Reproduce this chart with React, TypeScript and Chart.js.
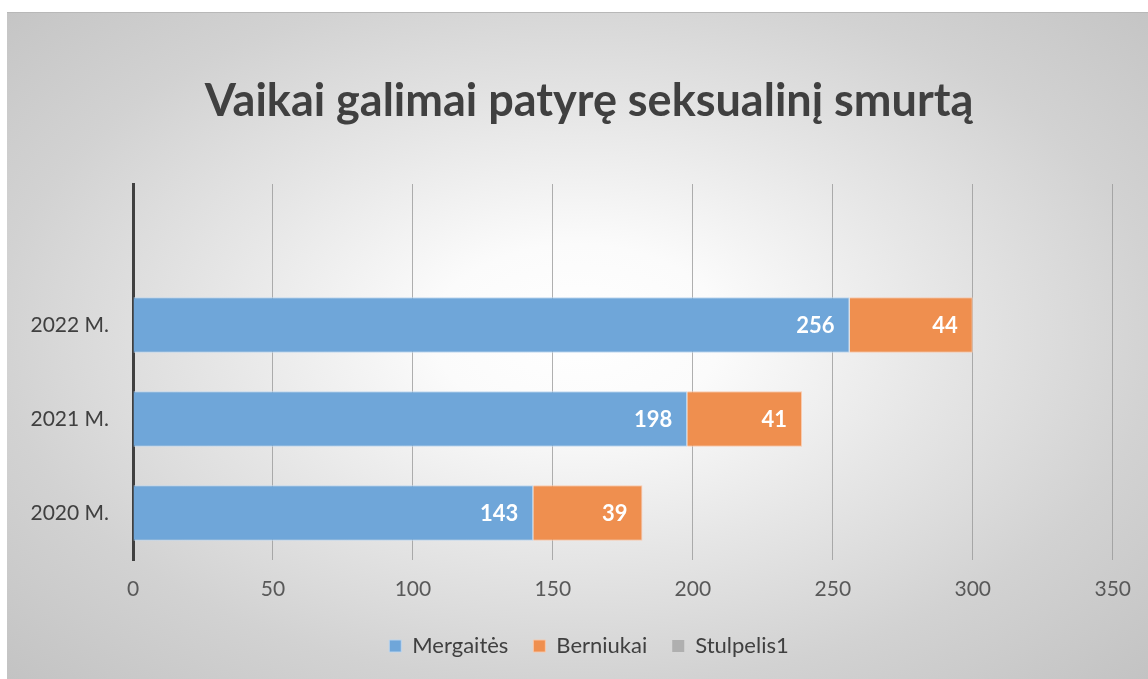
import React, { useEffect, useRef } from "react";
import { Chart, registerables } from "chart.js";

Chart.register(...registerables);

const TITLE = "Vaikai galimai patyrę seksualinį smurtą";
const CATEGORIES = ["2020 M.", "2021 M.", "2022 M.", ""];
const MERGAITES = [143, 198, 256, null];
const BERNIUKAI = [39, 41, 44, null];
const STULPELIS1 = [null, null, null, null];
const X_MIN = 0;
const X_MAX = 350;
const X_STEP = 50;

const FONT = "Lato, 'Open Sans', sans-serif";

const dataLabelPlugin = {
  id: "dataLabels",
  afterDatasetsDraw(chart: any) {
    const ctx = chart.ctx;
    ctx.save();
    ctx.font = `bold 22px ${FONT}`;
    ctx.fillStyle = "#ffffff";
    ctx.textAlign = "right";
    ctx.textBaseline = "middle";
    [0, 1].forEach((di) => {
      const meta = chart.getDatasetMeta(di);
      const ds = chart.data.datasets[di];
      meta.data.forEach((el: any, i: number) => {
        const v = ds.data[i];
        if (v === null || v === undefined) return;
        ctx.fillText(String(v), el.x - 15, el.y + 1);
      });
    });
    ctx.restore();
  },
};

// Centre title and legend on the frame the way the reference does
const shiftPlugin = {
  id: "shiftBlocks",
  afterLayout(chart: any) {
    const dx = 29;
    [chart.legend, chart.titleBlock].forEach((b: any) => {
      if (!b) return;
      b.left += dx;
      b.right += dx;
    });
  },
};

export default function App() {
  const ref = useRef<HTMLCanvasElement>(null);
  useEffect(() => {
    if (!ref.current) return;
    const chart = new Chart(ref.current, {
      type: "bar",
      data: {
        labels: CATEGORIES,
        datasets: [
          {
            label: "Mergaitės",
            data: MERGAITES,
            backgroundColor: "#6fa6d9",
            borderColor: "rgba(190,215,240,0.9)",
            borderWidth: 1,
          },
          {
            label: "Berniukai",
            data: BERNIUKAI,
            backgroundColor: "#ef8f4f",
            borderColor: "rgba(250,200,170,0.9)",
            borderWidth: 1,
          },
          {
            label: "Stulpelis1",
            data: STULPELIS1,
            backgroundColor: "#afafaf",
            borderColor: "#afafaf",
            borderWidth: 0,
          },
        ],
      },
      options: {
        indexAxis: "y",
        animation: false,
        responsive: false,
        maintainAspectRatio: false,
        datasets: {
          bar: { categoryPercentage: 1, barPercentage: 0.59 },
        },
        layout: { padding: { left: 0, right: 35, top: 0, bottom: 12 } },
        plugins: {
          title: {
            display: true,
            text: TITLE,
            color: "#404040",
            font: { family: FONT, size: 45, weight: "bold", lineHeight: 1.2 },
            padding: { top: 61, bottom: 56 },
          },
          legend: {
            display: true,
            position: "bottom",
            labels: {
              boxWidth: 12,
              boxHeight: 12,
              padding: 25,
              color: "#404040",
              font: { family: FONT, size: 22 },
            },
          },
          tooltip: { enabled: false },
        },
        scales: {
          x: {
            stacked: true,
            min: X_MIN,
            max: X_MAX,
            ticks: {
              stepSize: X_STEP,
              color: "#595959",
              padding: 17,
              font: { family: FONT, size: 21 },
            },
            grid: { color: "rgba(150,150,150,0.75)", lineWidth: 1, drawTicks: false },
            border: { display: false },
            afterFit: (s: any) => {
              s.height = 50;
            },
          },
          y: {
            stacked: true,
            reverse: true,
            ticks: {
              color: "#404040",
              padding: 24,
              font: { family: FONT, size: 21 },
            },
            grid: { display: false, drawTicks: false },
            border: { display: true, color: "#404040", width: 3 },
            afterFit: (s: any) => {
              s.width = 126;
            },
          },
        },
      },
      plugins: [dataLabelPlugin, shiftPlugin],
    });
    return () => chart.destroy();
  }, []);

  return (
    <div
      style={{
        position: "absolute",
        left: 7,
        top: 12,
        width: 1141,
        height: 667,
        background:
          "radial-gradient(ellipse at 50% 48%, #ffffff 0%, #fbfbfb 18%, #e6e6e6 45%, #d2d2d2 72%, #c3c3c3 100%)",
        borderTop: "1px solid #b8b8b8",
        boxSizing: "border-box",
      }}
    >
      <canvas ref={ref} width={1141} height={666} style={{ display: "block" }} />
    </div>
  );
}
